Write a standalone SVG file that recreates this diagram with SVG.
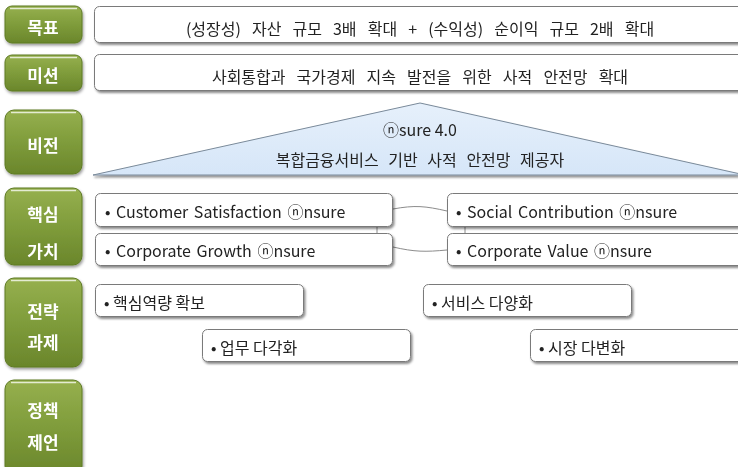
<svg xmlns="http://www.w3.org/2000/svg" width="738" height="467" viewBox="0 0 738 467">
<defs>
<linearGradient id="gbtn" x1="0" y1="0" x2="0" y2="1">
<stop offset="0" stop-color="#96b04e"/>
<stop offset="0.5" stop-color="#7f9c3b"/>
<stop offset="1" stop-color="#6a862b"/>
</linearGradient>
<linearGradient id="tri" x1="0" y1="0" x2="0" y2="1">
<stop offset="0" stop-color="#e6f0fb"/>
<stop offset="1" stop-color="#d6e6f8"/>
</linearGradient>
<filter id="sh" x="-5%" y="-20%" width="110%" height="150%">
<feDropShadow dx="1.5" dy="2" stdDeviation="1" flood-color="#000" flood-opacity="0.45"/>
</filter>
<filter id="gsh" x="-10%" y="-10%" width="130%" height="130%">
<feDropShadow dx="1" dy="2" stdDeviation="1.5" flood-color="#000" flood-opacity="0.4"/>
</filter>
</defs>
<style>
.btn{fill:url(#gbtn);stroke:#5e7a24;stroke-width:1}
.hl{fill:none;stroke:#ffffff;stroke-opacity:0.75;stroke-width:1.5}
.bl{font-family:"Noto Sans CJK KR",sans-serif;font-size:17px;font-weight:bold;fill:#ffffff;text-anchor:middle}
.box{fill:#ffffff;stroke:#7a7a7a;stroke-width:1}
.t{font-family:"Noto Sans CJK KR",sans-serif;font-size:16px;fill:#222222}
.tc{text-anchor:middle}
.ws{word-spacing:7.5px}
.wv{word-spacing:6px}
.we{word-spacing:2px}
.con{fill:none;stroke:#8c8c8c;stroke-width:1}
</style>
<rect width="738" height="467" fill="#ffffff"/>

<g id="btn-goal" filter="url(#gsh)">
<rect class="btn" x="5" y="6" width="77" height="37" rx="7"/>
<path class="hl" d="M10 8.5 H77"/>
<text class="bl" x="43" y="34">목표</text>
</g>
<g id="btn-mission" filter="url(#gsh)">
<rect class="btn" x="5" y="55" width="77" height="36" rx="7"/>
<path class="hl" d="M10 57.5 H77"/>
<text class="bl" x="43" y="82">미션</text>
</g>
<g id="btn-vision" filter="url(#gsh)">
<rect class="btn" x="5" y="110" width="77" height="64" rx="9"/>
<path class="hl" d="M11 112.5 H76"/>
<text class="bl" x="43" y="152">비전</text>
</g>
<g id="btn-values" filter="url(#gsh)">
<rect class="btn" x="5" y="188" width="77" height="77" rx="9"/>
<path class="hl" d="M11 190.5 H76"/>
<text class="bl" x="43" y="221">핵심</text>
<text class="bl" x="43" y="258">가치</text>
</g>
<g id="btn-strategy" filter="url(#gsh)">
<rect class="btn" x="5" y="278" width="77" height="89" rx="9"/>
<path class="hl" d="M11 280.5 H76"/>
<text class="bl" x="43" y="318">전략</text>
<text class="bl" x="43" y="349">과제</text>
</g>
<g id="btn-policy" filter="url(#gsh)">
<rect class="btn" x="5" y="380" width="77" height="95" rx="9"/>
<path class="hl" d="M11 382.5 H76"/>
<text class="bl" x="43" y="417">정책</text>
<text class="bl" x="43" y="449">제언</text>
</g>

<g id="goal" filter="url(#sh)">
<rect class="box" x="94.5" y="6.5" width="660" height="36" rx="5"/>
<text class="t tc ws" x="420" y="35">(성장성) 자산 규모 3배 확대 + (수익성) 순이익 규모 2배 확대</text>
</g>
<g id="mission" filter="url(#sh)">
<rect class="box" x="94.5" y="54.5" width="660" height="36" rx="5"/>
<text class="t tc ws" x="420" y="83">사회통합과 국가경제 지속 발전을 위한 사적 안전망 확대</text>
</g>
<g id="vision" filter="url(#sh)">
<polygon points="93,175 420,103 745,175" fill="url(#tri)" stroke="#7a8a9a" stroke-width="1"/>
<text class="t tc" x="420" y="136">ⓝsure 4.0</text>
<text class="t tc wv" x="420" y="166">복합금융서비스 기반 사적 안전망 제공자</text>
</g>

<g id="connectors">
<path class="con" d="M393 209 C415 205 425 206 447 211"/>
<path class="con" d="M393 247 C415 252 425 252 447 250"/>
<path class="con" d="M377 227 V233"/>
<path class="con" d="M465 227 V233"/>
</g>

<g id="cv1" filter="url(#sh)">
<rect class="box" x="95.5" y="193.5" width="297" height="33" rx="5"/>
<text class="t we" x="105" y="218">• Customer Satisfaction ⓝnsure</text>
</g>
<g id="cv2" filter="url(#sh)">
<rect class="box" x="95.5" y="233.5" width="297" height="32" rx="5"/>
<text class="t we" x="105" y="257">• Corporate Growth ⓝnsure</text>
</g>
<g id="cv3" filter="url(#sh)">
<rect class="box" x="447.5" y="193.5" width="310" height="33" rx="5"/>
<text class="t we" x="456" y="218">• Social Contribution ⓝnsure</text>
</g>
<g id="cv4" filter="url(#sh)">
<rect class="box" x="447.5" y="233.5" width="310" height="32" rx="5"/>
<text class="t we" x="456" y="257">• Corporate Value ⓝnsure</text>
</g>

<g id="st1" filter="url(#sh)">
<rect class="box" x="95.5" y="284.5" width="208" height="32" rx="5"/>
<text class="t" x="104" y="309">• 핵심역량 확보</text>
</g>
<g id="st2" filter="url(#sh)">
<rect class="box" x="202.5" y="329.5" width="208" height="32" rx="5"/>
<text class="t" x="211" y="354">• 업무 다각화</text>
</g>
<g id="st3" filter="url(#sh)">
<rect class="box" x="423.5" y="284.5" width="208" height="32" rx="5"/>
<text class="t" x="432" y="309">• 서비스 다양화</text>
</g>
<g id="st4" filter="url(#sh)">
<rect class="box" x="530.5" y="329.5" width="230" height="32" rx="5"/>
<text class="t" x="539" y="354">• 시장 다변화</text>
</g>
</svg>
